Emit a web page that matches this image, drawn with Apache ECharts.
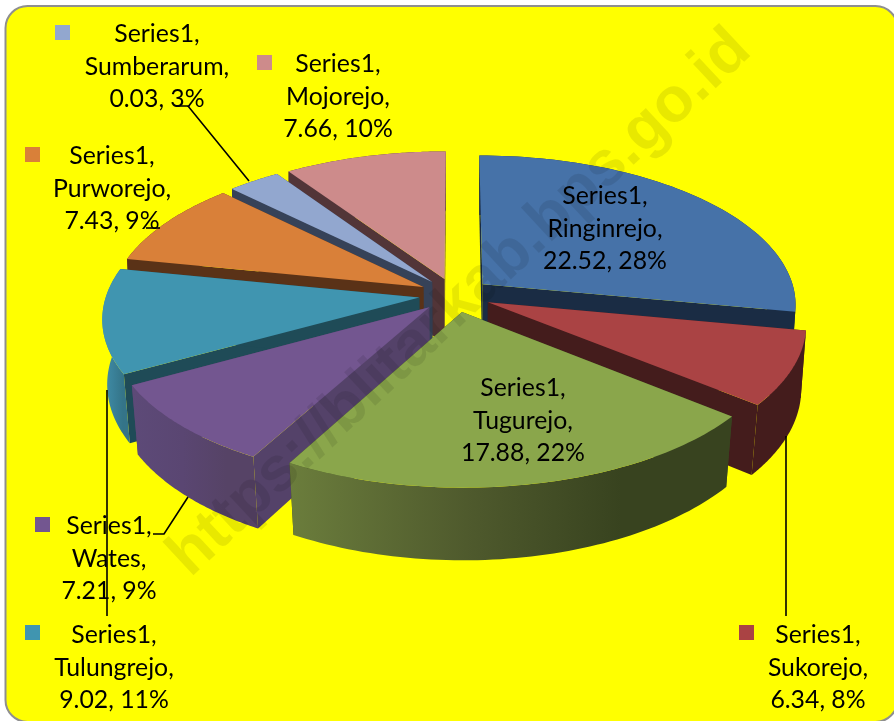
<!DOCTYPE html>
<html>
<head>
<meta charset="utf-8">
<style>html,body{margin:0;padding:0;background:#fff}#c{width:894px;height:721px}</style>
<script src="https://cdn.jsdelivr.net/npm/echarts@6/dist/echarts.min.js"></script>
</head>
<body>
<div id="c"></div>
<script>
const seriesName = 'Series1';
const categories = ['Ringinrejo','Sukorejo','Tugurejo','Wates','Tulungrejo','Purworejo','Sumberarum','Mojorejo'];
// values as printed on the labels
const values = [22.52, 6.34, 17.88, 7.21, 9.02, 7.43, 0.03, 7.66];
const percents = [28, 8, 22, 9, 11, 9, 3, 10];
const sliceSizes = [22.52, 6.34, 17.88, 7.21, 9.02, 7.43, 2.5, 7.66];
const watermark = 'https://blitarkab.bps.go.id';

// styling, one entry per category
const topColors  = ['#4672a8','#aa4344','#8aa64b','#735690','#4095b0','#d98039','#92a7cf','#cd8b8b'];
const wallColors = ['#1a2c44','#441c1c','#3a4520','#544269','#1f4b57','#5a3217','#364258','#523538'];
const rimLeft    = ['#1a2c44','#441c1c','#6b7d3c','#5d4a78','#418fa9','#5a3217','#364258','#523538'];
const rimMid     = ['#1a2c44','#441c1c','#4f5a2d','#5a4672','#3a8199','#5a3217','#364258','#523538'];
const rimRight   = ['#1a2c44','#441c1c','#38431f','#564366','#347488','#5a3217','#364258','#523538'];
const paintOrder = [7,6,5,0,4,1,3,2]; // back to front
const labelPos = [[605,229],[818,668],[523,421],[109,559],[114,668],[112,189],[157,67],[338,97]];
const keyPos   = [null,[739,625],null,[35,517],[25,625],[25,147],[55,25],[257,55]];
const leaders = [
  [[176,106],[188,106],[249,181]],
  [[146,228],[160,228]],
  [[153,534],[164,534],[188,497]],
  [[107,390],[107,616]],
  [[786,436],[786,616]]
];

const CX = 455, CY = 295, R = 313, K = 0.473, U = 0.13, EXPLODE = 36, DEPTH = 66;

const total = sliceSizes.reduce((a,b)=>a+b,0);
const starts = [];
sliceSizes.reduce((acc,p,i)=>{starts[i]=acc;return acc+p;},0);

function project(X,Z){
  const f = 1/(1-U*Z/R);
  return [CX+X*f, CY+K*Z*f, Z];
}
function lower(p){
  const shrink = 1-0.012*(1+p[2]/R);
  return [CX+(p[0]-CX)*shrink, p[1]+DEPTH+6*p[2]/R];
}
function renderSlice(params, api){
  const i = params.dataIndex;
  const a0 = api.value(1)/total*2*Math.PI;
  const a1 = (api.value(1)+api.value(0))/total*2*Math.PI;
  const mid = (a0+a1)/2;
  const ox = EXPLODE*Math.sin(mid), oz = -EXPLODE*Math.cos(mid);
  const apex = project(ox,oz);
  const rim = [];
  const n = 64;
  for(let j=0;j<=n;j++){
    const a = a0+(a1-a0)*j/n;
    rim.push(project(ox+R*Math.sin(a), oz-R*Math.cos(a)));
  }
  const rimBottom = rim.map(lower);
  const apexBottom = lower(apex);
  const z = paintOrder.indexOf(i)*10;
  const wall = (a,b,c,d,zz)=>({
    type:'polygon', z2:z+zz,
    shape:{points:[a.slice(0,2),b.slice(0,2),c,d]},
    style:{fill:wallColors[i]}
  });
  const top2 = p=>p.slice(0,2);
  return {type:'group',children:[
    wall(apex,rim[0],rimBottom[0],apexBottom,1),
    wall(apex,rim[n],rimBottom[n],apexBottom,1),
    {type:'polygon',z2:z+2,
      shape:{points:rim.map(top2).concat(rimBottom.slice().reverse())},
      style:{fill:new echarts.graphic.LinearGradient(0,0,1,0,[
        {offset:0,color:rimLeft[i]},{offset:0.4,color:rimMid[i]},{offset:0.75,color:rimRight[i]},{offset:1,color:rimRight[i]}])}},
    {type:'polygon',z2:z+3,
      shape:{points:[top2(apex)].concat(rim.map(top2))},
      style:{fill:topColors[i]}}
  ]};
}
function renderLabel(params, api){
  const i = params.dataIndex;
  const children = [{
    type:'text', z2:10,
    style:{
      text: seriesName+',\n'+categories[i]+',\n'+api.value(0)+', '+percents[i]+'%',
      x:labelPos[i][0], y:labelPos[i][1],
      align:'center', verticalAlign:'middle',
      fontFamily:'Lato', fontSize:24.8, lineHeight:32.5, fill:'#000'
    }
  }];
  if(keyPos[i]){
    children.push({type:'rect',z2:10,
      shape:{x:keyPos[i][0],y:keyPos[i][1],width:15,height:15},
      style:{fill:topColors[i]}});
  }
  return {type:'group',children};
}
function renderLeader(params){
  return {type:'polyline',z2:20,
    shape:{points:leaders[params.dataIndex]},
    style:{stroke:'#000',lineWidth:1.6,fill:null}};
}

const chart = echarts.init(document.getElementById('c'),null,{renderer:'canvas'});
chart.setOption({
  animation:false,
  backgroundColor:'#ffffff',
  graphic:[
    {type:'rect',z:0,shape:{x:5.5,y:6,width:892,height:716,r:22},
      style:{fill:'#ffff00',stroke:'#8f8f8f',lineWidth:2}},
    {type:'text',z:50,x:460,y:303,rotation:43*Math.PI/180,
      style:{text:watermark,align:'center',verticalAlign:'middle',
        fontFamily:'Liberation Sans',fontWeight:'bold',fontSize:63,fill:'rgba(0,0,0,0.09)'}}
  ],
  series:[
    {type:'custom',coordinateSystem:'none',z:10,silent:true,
      data:sliceSizes.map((p,i)=>[p,starts[i]]),renderItem:renderSlice},
    {type:'custom',coordinateSystem:'none',z:60,silent:true,
      data:values.map(v=>[v]),renderItem:renderLabel},
    {type:'custom',coordinateSystem:'none',z:70,silent:true,
      data:leaders.map((l,i)=>[i]),renderItem:renderLeader}
  ]
});
</script>
</body>
</html>
